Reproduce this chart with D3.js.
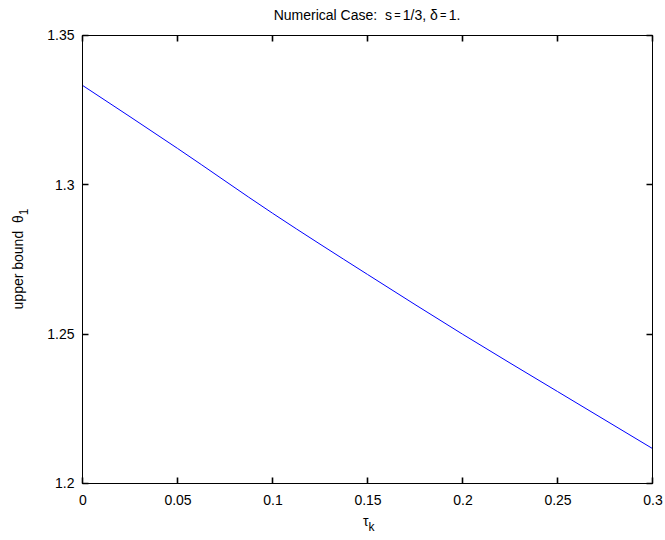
<!DOCTYPE html>
<html>
<head>
<meta charset="utf-8">
<script src="https://cdn.jsdelivr.net/npm/d3@7"></script>
<style>
  body { margin: 0; background: #fff; }
  svg text { font-family: "Liberation Sans", Arial, Helvetica, sans-serif; }
</style>
</head>
<body>
<div id="chart"></div>
<script>
// data
const tau = [0, 0.05, 0.1, 0.15, 0.2, 0.25, 0.3];
const theta = [1.3333, 1.3122, 1.2905, 1.2700, 1.2500, 1.2308, 1.2117];
const xTicks = [0, 0.05, 0.1, 0.15, 0.2, 0.25, 0.3];
const yTicks = [1.2, 1.25, 1.3, 1.35];

const svgWidth = 665, svgHeight = 540;
const margin = { top: 35, right: 13, bottom: 57, left: 82 };
const width = svgWidth - margin.left - margin.right;
const height = svgHeight - margin.top - margin.bottom;
const tickLen = 6;

const svg = d3.select("#chart").append("svg")
  .attr("width", svgWidth)
  .attr("height", svgHeight);

const g = svg.append("g")
  .attr("transform", `translate(${margin.left + 0.5}, ${margin.top + 0.5})`);

const x = d3.scaleLinear().domain([0, 0.3]).range([0, width]);
const y = d3.scaleLinear().domain([1.2, 1.35]).range([height, 0]);

// line
const line = d3.line()
  .curve(d3.curveMonotoneX)
  .x((d, i) => x(tau[i]))
  .y((d) => y(d));

g.append("path")
  .attr("fill", "none")
  .attr("stroke", "#0000ff")
  .attr("stroke-width", 1)
  .attr("d", line(theta));

// axes: labels from d3 axes, inward ticks drawn on all four sides
const fmt = (d) => String(+d.toFixed(2));

const xAxis = g.append("g")
  .attr("transform", `translate(0, ${height})`)
  .call(d3.axisBottom(x).tickValues(xTicks).tickFormat(fmt).tickSize(0).tickPadding(12));
const yAxis = g.append("g")
  .call(d3.axisLeft(y).tickValues(yTicks).tickFormat(fmt).tickSize(0).tickPadding(8));
[xAxis, yAxis].forEach((a) => {
  a.select(".domain").remove();
  a.selectAll(".tick text").attr("fill", "#000").attr("font-size", "14px");
});

// box
g.append("rect")
  .attr("x", 0).attr("y", 0)
  .attr("width", width).attr("height", height)
  .attr("fill", "none")
  .attr("stroke", "#000")
  .attr("stroke-width", 1);

// inward tick marks on all four sides
const tickPath = [];
xTicks.forEach((d) => {
  const px = Math.round(x(d));
  tickPath.push(`M${px},${height}V${height - tickLen}`);
  tickPath.push(`M${px},0V${tickLen}`);
});
yTicks.forEach((d) => {
  const py = Math.round(y(d));
  tickPath.push(`M0,${py}H${tickLen}`);
  tickPath.push(`M${width},${py}H${width - tickLen}`);
});
g.append("path")
  .attr("d", tickPath.join(""))
  .attr("fill", "none")
  .attr("stroke", "#000")
  .attr("stroke-width", 1.6);

// title
const title = svg.append("text")
  .attr("x", margin.left + width / 2)
  .attr("y", 20)
  .attr("text-anchor", "middle")
  .attr("font-size", "14px")
  .attr("fill", "#000");
title.append("tspan").text("Numerical Case:\u00a0 s");
title.append("tspan").attr("font-size", "11px").attr("dy", -1).text("\u2009=\u2009");
title.append("tspan").attr("dy", 1).text("1/3, δ");
title.append("tspan").attr("font-size", "11px").attr("dy", -1).text("\u2009=\u2009");
title.append("tspan").attr("dy", 1).text("1.");

// x label
const xl = svg.append("text")
  .attr("x", margin.left + width / 2 - 4)
  .attr("y", 526)
  .attr("font-size", "14px")
  .attr("fill", "#000");
xl.append("tspan").attr("fill", "#000").text("τ");
xl.append("tspan").attr("fill", "#000").attr("dy", 5).attr("font-size", "12px").text("k");

// y label
const yl = svg.append("text")
  .attr("transform", `translate(23, ${margin.top + height / 2}) rotate(-90)`)
  .attr("text-anchor", "middle")
  .attr("font-size", "14px")
  .attr("fill", "#000");
yl.append("tspan").text("upper bound\u00a0 θ");
yl.append("tspan").attr("dy", 5).attr("font-size", "12px").text("1");
</script>
</body>
</html>
